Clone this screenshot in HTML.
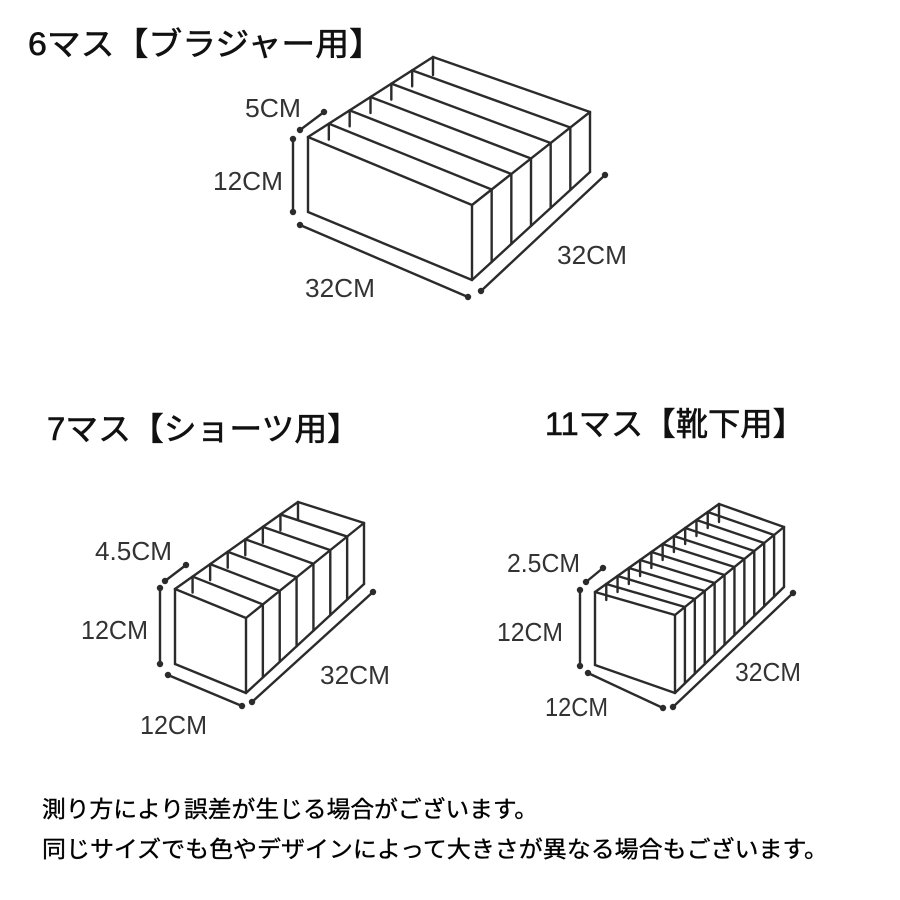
<!DOCTYPE html>
<html><head><meta charset="utf-8"><style>
html,body{margin:0;padding:0;background:#fff;}
svg{display:block;}
text{font-family:"Liberation Sans","Noto Sans CJK JP",sans-serif;fill:#111;}
.t{stroke:#111;stroke-width:0.6;}
.n{fill:#000;stroke:#000;stroke-width:0.35;}
.d{font-family:"Liberation Sans Narrow","Liberation Sans",sans-serif;font-size:26px;fill:#333;}
</style></head><body>
<svg id="s" width="900" height="900" viewBox="0 0 900 900" xmlns="http://www.w3.org/2000/svg">
<text class="t" x="28" y="55" font-size="32" textLength="355" lengthAdjust="spacingAndGlyphs">6マス【ブラジャー用】</text>
<text class="t" x="47" y="440" font-size="32" textLength="313" lengthAdjust="spacingAndGlyphs">7マス【ショーツ用】</text>
<text class="t" x="545" y="435" font-size="32" textLength="260" lengthAdjust="spacingAndGlyphs">11マス【靴下用】</text>
<text class="n" x="42" y="817" font-size="23" textLength="496" lengthAdjust="spacingAndGlyphs">測り方により誤差が生じる場合がございます。</text>
<text class="n" x="42" y="857" font-size="23" textLength="786" lengthAdjust="spacingAndGlyphs">同じサイズでも色やデザインによって大きさが異なる場合もございます。</text>

<text class="d" x="245" y="117" textLength="56" lengthAdjust="spacingAndGlyphs">5CM</text>
<text class="d" x="213" y="190" textLength="70" lengthAdjust="spacingAndGlyphs">12CM</text>
<text class="d" x="305" y="297" textLength="70" lengthAdjust="spacingAndGlyphs">32CM</text>
<text class="d" x="557" y="264" textLength="70" lengthAdjust="spacingAndGlyphs">32CM</text>

<text class="d" x="95" y="560" textLength="77" lengthAdjust="spacingAndGlyphs">4.5CM</text>
<text class="d" x="81" y="639" textLength="67" lengthAdjust="spacingAndGlyphs">12CM</text>
<text class="d" x="320" y="684" textLength="70" lengthAdjust="spacingAndGlyphs">32CM</text>
<text class="d" x="140" y="734" textLength="67" lengthAdjust="spacingAndGlyphs">12CM</text>

<text class="d" x="507" y="572" textLength="73" lengthAdjust="spacingAndGlyphs">2.5CM</text>
<text class="d" x="497" y="641" textLength="66" lengthAdjust="spacingAndGlyphs">12CM</text>
<text class="d" x="735" y="681" textLength="66" lengthAdjust="spacingAndGlyphs">32CM</text>
<text class="d" x="545" y="716" textLength="63" lengthAdjust="spacingAndGlyphs">12CM</text>
<g id="g" stroke="#2b2b2b" stroke-width="2.4" fill="none" stroke-linecap="round"></g>
</svg>
<script>
var g=document.getElementById('g'),NS='http://www.w3.org/2000/svg';
function L(a,b){var l=document.createElementNS(NS,'line');l.setAttribute('x1',a[0]);l.setAttribute('y1',a[1]);l.setAttribute('x2',b[0]);l.setAttribute('y2',b[1]);g.appendChild(l);}
function dot(p){var c=document.createElementNS(NS,'circle');c.setAttribute('cx',p[0]);c.setAttribute('cy',p[1]);c.setAttribute('r',3.2);c.setAttribute('fill','#2b2b2b');c.setAttribute('stroke','none');g.appendChild(c);}
function dim(a,b){L(a,b);dot(a);dot(b);}
function lerp(a,b,t){return [a[0]+(b[0]-a[0])*t,a[1]+(b[1]-a[1])*t];}
function box(A,B,Bb,Ab,C,Cb,D,n){
 L(A,B);L(B,Bb);L(Bb,Ab);L(Ab,A);L(B,C);L(C,Cb);L(Bb,Cb);L(D,C);L(A,D);L(D,[D[0],D[1]+18]);
 for(var k=1;k<n;k++){var t=k/n,l=lerp(A,D,t),r=lerp(B,C,t),rb=lerp(Bb,Cb,t);
  L(l,r);L(r,rb);L(l,[l[0],l[1]+16]);}
}
box([308,137],[472,205],[472,280],[308,212],[590,112],[590,172],[433,57],6);
dim([300,130],[324,112]);dim([293,139],[293,212]);dim([300,225],[468,297]);dim([481,291],[605,175]);
box([175,589],[246,618],[246,693],[175,664],[364,523],[364,584],[298,502],7);
dim([165,581],[186,565]);dim([160,588],[160,664]);dim([168,675],[242,706]);dim([252,702],[373,592]);
box([595,592],[675,615],[675,693],[595,665],[784,527],[784,587],[719,504],11);
dim([586,582],[603,568]);dim([580,590],[580,666]);dim([588,673],[663,708]);dim([673,707],[793,593]);
</script>
</body></html>
